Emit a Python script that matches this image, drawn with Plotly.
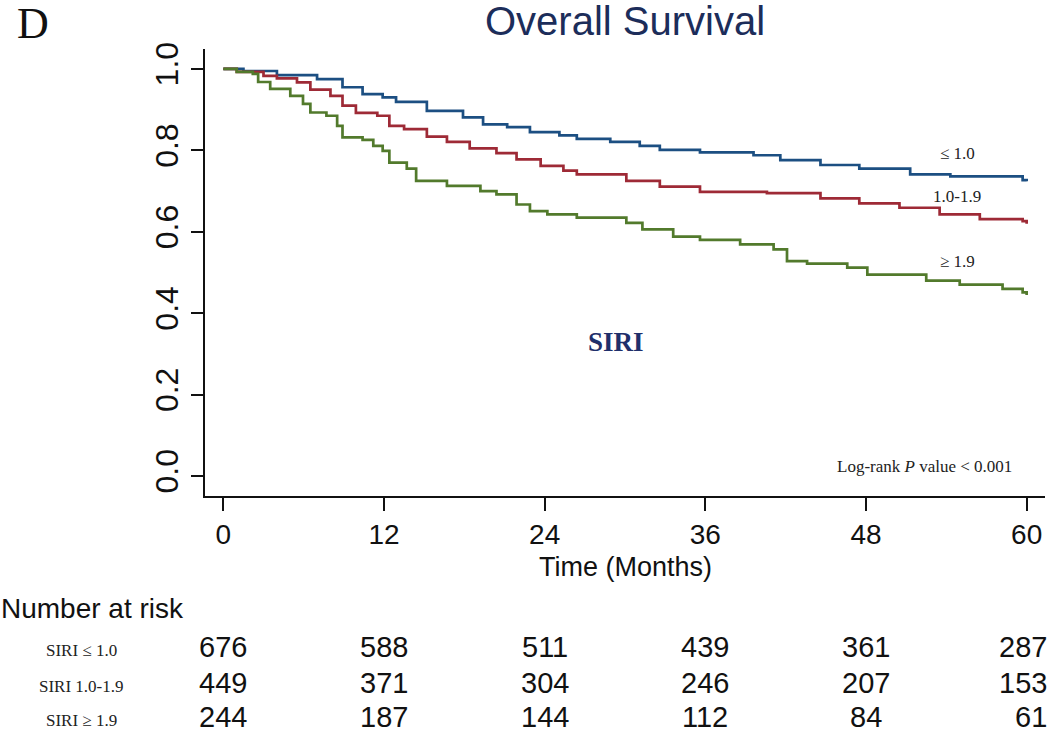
import plotly.graph_objects as go

# ---- data ----
t_low = [0, 1.5, 4.0, 7.0, 8.9, 10.4, 11.9, 12.9, 15.2, 17.9, 19.4, 21.2, 22.9, 25.1, 26.4,
         28.9, 31.1, 32.6, 35.6, 39.6, 41.6, 44.6, 47.5, 51.3, 54.3, 59.7, 60]
s_low = [1.0, 0.995, 0.985, 0.975, 0.955, 0.938, 0.930, 0.919, 0.897, 0.881, 0.864, 0.857, 0.845, 0.837, 0.828,
         0.821, 0.811, 0.801, 0.795, 0.788, 0.776, 0.764, 0.755, 0.741, 0.736, 0.727, 0.724]

t_mid = [0, 1.0, 3.0, 4.0, 5.5, 6.5, 8.0, 8.9, 9.9, 11.5, 12.4, 13.5, 15.2, 16.7, 18.4, 20.4, 21.9,
         23.7, 25.4, 26.4, 30.1, 32.6, 35.6, 40.6, 44.6, 47.5, 50.5, 53.5, 56.5, 59.7, 60]
s_mid = [1.0, 0.993, 0.983, 0.977, 0.967, 0.949, 0.934, 0.910, 0.892, 0.885, 0.860, 0.852, 0.834, 0.821, 0.805, 0.793, 0.778,
         0.762, 0.750, 0.741, 0.725, 0.711, 0.698, 0.695, 0.682, 0.670, 0.659, 0.643, 0.631, 0.626, 0.620]

t_high = [0, 1.0, 2.2, 2.6, 3.5, 5.0, 5.95, 6.5, 7.7, 8.5, 8.9, 10.4, 11.2, 11.9, 12.4, 13.7, 14.4,
          16.7, 19.2, 20.4, 21.9, 22.9, 24.2, 26.4, 30.1, 31.3, 33.6, 35.6, 38.6, 41.1, 42.1, 43.6,
          46.6, 48.1, 52.5, 55.0, 58.2, 59.7, 60]
s_high = [1.0, 0.993, 0.988, 0.968, 0.951, 0.934, 0.914, 0.893, 0.885, 0.860, 0.832, 0.826, 0.811, 0.799, 0.770, 0.755, 0.725,
          0.713, 0.700, 0.692, 0.667, 0.651, 0.643, 0.635, 0.622, 0.606, 0.588, 0.580, 0.569, 0.557, 0.528, 0.522,
          0.512, 0.495, 0.480, 0.470, 0.460, 0.451, 0.445]

x_ticks = [0, 12, 24, 36, 48, 60]
y_ticks = [0.0, 0.2, 0.4, 0.6, 0.8, 1.0]
y_ticktext = ["0.0", "0.2", "0.4", "0.6", "0.8", "1.0"]

group_labels = ["≤ 1.0", "1.0-1.9", "≥ 1.9"]
row_labels = ["SIRI ≤ 1.0", "SIRI 1.0-1.9", "SIRI ≥ 1.9"]
risk_low = [676, 588, 511, 439, 361, 287]
risk_mid = [449, 371, 304, 246, 207, 153]
risk_high = [244, 187, 144, 112, 84, 61]

colors = ["#1c4f82", "#9e2a36", "#527a2c"]

SANS = "Liberation Sans, Arial, sans-serif"
SERIF = "Liberation Serif, Times New Roman, serif"

# layout geometry (pixels)
W, H = 1050, 733
L, R, T, B = 205, 5, 49, 237
PW, PH = W - L - R, H - T - B


def px(xp):
    return (xp - L) / PW


def py(yp):
    return (H - B - yp) / PH


fig = go.Figure()
for t, s, c, name in zip([t_low, t_mid, t_high], [s_low, s_mid, s_high], colors, group_labels):
    fig.add_trace(go.Scatter(x=t, y=s, mode="lines", line=dict(color=c, width=2.7, shape="hv"),
                             name=name, showlegend=False))

ann = []


def add(x, y, text, font, xref="paper", yref="paper", xanchor="center", yanchor="middle", xshift=0):
    ann.append(dict(x=x, y=y, xref=xref, yref=yref, text=text, showarrow=False, borderpad=0,
                    xanchor=xanchor, yanchor=yanchor, xshift=xshift, font=font))


# curve labels
for lab, yv in zip(group_labels, [0.792, 0.687, 0.528]):
    add(54.8, yv, lab, dict(family=SERIF, size=17, color="#222"), xref="x", yref="y")
add(29.3, 0.33, "<b>SIRI</b>", dict(family=SERIF, size=27, color="#1f2f6b"), xref="x", yref="y")
add(px(1013), 0.024, "Log-rank <i>P</i> value < 0.001", dict(family=SERIF, size=17, color="#222"),
    yref="y", xanchor="right")
# titles
add(px(33), py(23), "D", dict(family=SERIF, size=44, color="#111"))
add(px(625), py(21), "Overall Survival", dict(family=SANS, size=40, color="#1c2d5a"))
add(30, py(567), "Time (Months)", dict(family=SANS, size=27, color="#111"), xref="x")
# risk table
add(px(0), py(608), "Number at risk", dict(family=SANS, size=28, color="#111"), xanchor="left")
row_y = [647, 683, 717]
for lab, yy, vals in zip(row_labels, row_y, [risk_low, risk_mid, risk_high]):
    add(px(81), py(yy + 3), lab, dict(family=SERIF, size=17, color="#222"))
    for xt, v in zip(x_ticks, vals):
        add(xt, py(yy), str(v), dict(family=SANS, size=29, color="#111"), xref="x",
            xanchor="right" if xt == 60 else "center", xshift=21 if xt == 60 else 0)

fig.update_layout(
    width=W, height=H, margin=dict(l=L, r=R, t=T, b=B, pad=0),
    paper_bgcolor="white", plot_bgcolor="white",
    annotations=ann,
    xaxis=dict(range=[-1.37, 61.37], tickvals=x_ticks, ticks="outside", ticklen=13, tickwidth=1.5,
               tickcolor="#111", showline=True, linecolor="#111", linewidth=1.5, showgrid=False,
               zeroline=False, automargin=False, tickfont=dict(family=SANS, size=28, color="#111")),
    yaxis=dict(range=[-0.049, 1.049], tickvals=y_ticks, ticktext=y_ticktext, ticks="outside", ticklen=12,
               tickwidth=1.5, tickcolor="#111", showline=True, linecolor="#111", linewidth=1.5,
               showgrid=False, zeroline=False, tickangle=-90, automargin=False,
               tickfont=dict(family=SANS, size=32, color="#111")),
)

fig.write_html("out.html", config={"displayModeBar": False},
               post_script="document.body.style.margin='0px';document.body.style.padding='0px';")
